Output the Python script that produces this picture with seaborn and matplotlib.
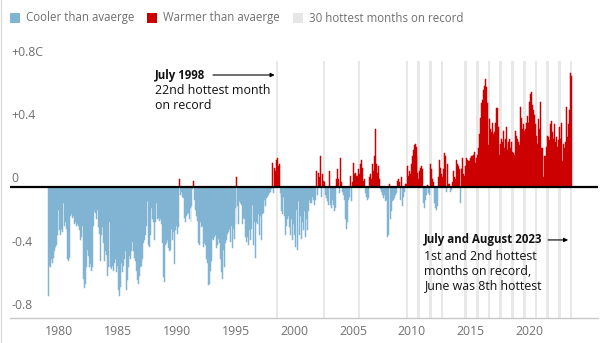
import numpy as np
import pandas as pd
import matplotlib
matplotlib.use("Agg")
import matplotlib.pyplot as plt
import matplotlib.transforms as mtransforms
from matplotlib.patches import Rectangle
import seaborn as sns

plt.rcParams['font.family'] = ['Open Sans', 'DejaVu Sans']

# ---- monthly anomalies (deg C) ----
y1979 = [-0.68,-0.49,-0.50,-0.45,-0.47,-0.44,-0.40,-0.38,-0.37,-0.36,-0.30,-0.14]
y1980 = [-0.27,-0.30,-0.26,-0.28,-0.10,-0.24,-0.22,-0.26,-0.45,-0.46,-0.44,-0.18]
y1981 = [-0.17,-0.19,-0.18,-0.23,-0.22,-0.24,-0.23,-0.24,-0.27,-0.33,-0.31,-0.24]
y1982 = [-0.57,-0.63,-0.60,-0.50,-0.39,-0.43,-0.50,-0.48,-0.52,-0.50,-0.24,-0.15]
y1983 = [-0.16,-0.20,-0.14,-0.25,-0.29,-0.22,-0.46,-0.30,-0.25,-0.35,-0.46,-0.40]
y1984 = [-0.42,-0.55,-0.50,-0.22,-0.50,-0.51,-0.49,-0.52,-0.47,-0.45,-0.53,-0.49]
y1985 = [-0.64,-0.68,-0.62,-0.47,-0.53,-0.49,-0.45,-0.40,-0.64,-0.58,-0.50,-0.43]
y1986 = [-0.45,-0.40,-0.34,-0.40,-0.44,-0.46,-0.52,-0.58,-0.60,-0.55,-0.50,-0.49]
y1987 = [-0.45,-0.35,-0.33,-0.30,-0.22,-0.24,-0.09,-0.36,-0.37,-0.30,-0.13,-0.20]
y1988 = [-0.22,-0.33,-0.22,-0.10,-0.20,-0.19,-0.21,-0.20,-0.23,-0.35,-0.56,-0.59]
y1989 = [-0.36,-0.35,-0.33,-0.38,-0.40,-0.39,-0.26,-0.33,-0.28,-0.48,-0.27,-0.24]
y1990 = [-0.29,-0.25,0.05,-0.05,-0.03,-0.06,-0.07,-0.19,-0.22,-0.18,-0.17,-0.16]
y1991 = [-0.20,-0.13,-0.22,-0.12,-0.01,0.04,-0.08,-0.14,-0.18,-0.21,-0.35,-0.36]
y1992 = [-0.22,-0.25,-0.24,-0.37,-0.35,-0.36,-0.45,-0.47,-0.61,-0.60,-0.52,-0.46]
y1993 = [-0.32,-0.33,-0.31,-0.30,-0.38,-0.36,-0.32,-0.35,-0.45,-0.53,-0.57,-0.39]
y1994 = [-0.50,-0.35,-0.33,-0.29,-0.28,-0.26,-0.34,-0.24,-0.38,-0.26,-0.32,-0.13]
y1995 = [-0.23,0.06,-0.12,-0.23,-0.09,-0.10,-0.11,-0.23,-0.19,-0.20,-0.31,-0.34]
y1996 = [-0.31,-0.36,-0.27,-0.33,-0.26,-0.11,-0.36,-0.22,-0.44,-0.22,-0.23,-0.17]
y1997 = [-0.30,-0.18,-0.33,-0.17,-0.16,-0.08,-0.12,-0.07,-0.06,-0.05,-0.04,-0.03]
y1998 = [-0.01,0.15,-0.04,0.12,0.10,0.17,0.18,0.13,0.14,-0.04,-0.06,-0.15]
y1999 = [-0.17,-0.06,-0.18,-0.30,-0.24,-0.20,-0.18,-0.25,-0.30,-0.20,-0.33,-0.23]
y2000 = [-0.30,-0.37,-0.14,-0.39,-0.09,-0.30,-0.18,-0.32,-0.22,-0.27,-0.15,-0.31]
y2001 = [-0.20,-0.27,-0.15,-0.08,-0.10,-0.10,-0.06,-0.08,-0.11,-0.08,0.10,-0.05]
y2002 = [0.09,0.06,0.19,-0.06,0.08,0.04,0.03,-0.05,-0.07,-0.07,-0.09,-0.11]
y2003 = [0.10,-0.11,-0.13,-0.08,-0.11,-0.15,-0.13,0.05,0.11,0.05,-0.04,0.18]
y2004 = [0.03,-0.03,-0.05,-0.08,-0.20,-0.26,-0.22,-0.08,-0.06,0.07,-0.09,0.03]
y2005 = [0.15,0.08,0.09,0.07,0.07,0.11,0.08,0.14,0.17,0.12,0.04,0.05]
y2006 = [-0.04,-0.06,-0.08,-0.07,0.06,0.08,0.05,0.04,0.14,0.10,0.19,0.36]
y2007 = [0.14,0.09,0.13,0.05,-0.01,-0.03,-0.05,-0.07,-0.05,-0.09,-0.08,-0.31]
y2008 = [-0.30,0.02,-0.20,-0.15,-0.09,-0.08,-0.07,-0.05,-0.04,0.04,0.05,0.03]
y2009 = [-0.08,0.06,-0.12,-0.06,-0.03,0.02,0.02,0.13,0.07,0.10,0.08,0.14]
y2010 = [0.19,0.23,0.26,0.27,0.25,0.19,0.09,0.05,0.10,0.12,0.13,0.11]
y2011 = [-0.10,-0.13,-0.08,-0.05,0.01,-0.04,-0.05,0.14,0.11,0.05,0.03,-0.10]
y2012 = [-0.13,-0.14,-0.12,0.06,0.17,0.12,0.08,0.06,0.11,0.21,0.19,-0.03]
y2013 = [0.14,0.02,0.02,-0.03,-0.02,0.03,0.10,0.06,0.05,0.17,0.14,0.13]
y2014 = [0.11,-0.10,0.11,0.12,0.18,0.08,0.07,0.13,0.18,0.17,0.16,0.16]
y2015 = [0.18,0.19,0.19,0.20,0.22,0.15,0.18,0.20,0.24,0.33,0.43,0.52]
y2016 = [0.54,0.60,0.63,0.67,0.62,0.52,0.26,0.42,0.36,0.34,0.40,0.33]
y2017 = [0.34,0.40,0.49,0.49,0.37,0.20,0.27,0.30,0.28,0.35,0.24,0.30]
y2018 = [0.37,0.23,0.27,0.28,0.30,0.24,0.28,0.22,0.21,0.20,0.35,0.32]
y2019 = [0.30,0.28,0.26,0.50,0.43,0.36,0.39,0.35,0.36,0.40,0.44,0.40]
y2020 = [0.53,0.58,0.59,0.51,0.48,0.45,0.39,0.32,0.27,0.42,0.36,0.53]
y2021 = [0.24,0.24,0.06,0.19,0.19,0.25,0.32,0.31,0.29,0.39,0.41,0.34]
y2022 = [0.31,0.30,0.39,0.28,0.31,0.25,0.29,0.37,0.30,0.40,0.16,0.27]
y2023 = [0.24,0.28,0.50,0.31,0.39,0.48,0.71,0.69]

years_data = [y1979, y1980, y1981, y1982, y1983, y1984, y1985, y1986, y1987,
              y1988, y1989, y1990, y1991, y1992, y1993, y1994, y1995, y1996,
              y1997, y1998, y1999, y2000, y2001, y2002, y2003, y2004, y2005,
              y2006, y2007, y2008, y2009, y2010, y2011, y2012, y2013, y2014,
              y2015, y2016, y2017, y2018, y2019, y2020, y2021, y2022, y2023]
anom = np.concatenate([np.array(v, float) for v in years_data])

# 30 hottest months on record (year, month)
hottest_months = [(1998, 7), (2002, 7), (2005, 7), (2009, 8),
                  (2010, 7), (2010, 8), (2011, 7), (2011, 8),
                  (2012, 7), (2012, 8), (2014, 7), (2014, 8),
                  (2015, 7), (2015, 8), (2016, 7), (2016, 8),
                  (2017, 7), (2017, 8), (2018, 7), (2018, 8),
                  (2019, 7), (2019, 8), (2020, 7), (2020, 8),
                  (2021, 7), (2021, 8), (2022, 7), (2022, 8),
                  (2023, 7), (2023, 8)]

tick_years = [1980, 1985, 1990, 1995, 2000, 2005, 2010, 2015, 2020]
y_levels = [0.8, 0.4, 0.0, -0.4, -0.8]
y_labels = ['+0.8C', '+0.4', '0', '-0.4', '-0.8']
legend_labels = ['Cooler than avaerge', 'Warmer than avaerge', '30 hottest months on record']

BLUE = '#80b4d2'
RED = '#cc0000'
BAND = '#e8e8e8'
GREY_TXT = '#707070'

W, H = 605, 343
fig = plt.figure(figsize=(W / 100, H / 100), dpi=100)
fig.patch.set_facecolor('white')

def fx(px):
    return px / W

def fy(py):
    return 1 - py / H

ax = fig.add_axes([fx(10), fy(318), fx(598) - fx(10), fy(61) - fy(318)])

df = pd.DataFrame({'m': np.arange(len(anom)), 'anom': anom,
                   'kind': np.where(anom >= 0, 'warm', 'cool')})

def mon_index(y, mo):
    return 12 * (y - 1979) + mo - 1

for (yy, mo) in hottest_months:
    m = mon_index(yy, mo)
    ax.axvspan(m - 0.9, m + 0.9, color=BAND, lw=0, zorder=0)

sns.barplot(data=df, x='m', y='anom', hue='kind',
            palette={'cool': BLUE, 'warm': RED}, native_scale=True,
            width=1.0, dodge=False, errorbar=None, legend=False,
            saturation=1, linewidth=0, ax=ax, zorder=2)

# close sub-pixel gaps between adjacent bars
for cont in ax.containers:
    for b in cont:
        b.set_edgecolor(b.get_facecolor())
        b.set_linewidth(0.35)

ax.axhline(0, color='black', lw=1.6, zorder=3)

ax.set_xlim(-39, 562)
ax.set_ylim(-0.814, 0.783)

for s in ['top', 'right', 'left']:
    ax.spines[s].set_visible(False)
ax.spines['bottom'].set_color('#c8c8c8')
ax.spines['bottom'].set_linewidth(1.0)

ax.set_xticks([12 * (y - 1979) - 0.5 for y in tick_years])
ax.set_xticklabels([str(y) for y in tick_years])
ax.tick_params(axis='x', length=0, pad=5, labelsize=8.8, labelcolor=GREY_TXT)
ax.set_yticks([])
ax.set_xlabel('')
ax.set_ylabel('')

# y labels sit just above their level
trans = mtransforms.blended_transform_factory(ax.transAxes, ax.transData)
for lv, lb in zip(y_levels, y_labels):
    ax.text(0.002, lv * 0.981 + 0.05, lb, transform=trans, ha='left',
            va='center', fontsize=8.8, color=GREY_TXT, zorder=5)

# annotations
BOLD_FS = 8.3
REG_FS = 8.9
m98 = mon_index(1998, 7)
ax.annotate('', xy=(m98 - 2.5, 0.696), xytext=(168.5, 0.696),
            arrowprops=dict(arrowstyle='-|>', color='black', lw=0.8,
                            mutation_scale=6, shrinkA=0, shrinkB=0), zorder=6)
ax.text(109.3, 0.696, 'July 1998', fontsize=BOLD_FS, fontweight='bold',
        va='center', ha='left', color='#111111', zorder=6)
ax.text(109.3, 0.602, '22nd hottest month', fontsize=REG_FS,
        va='center', ha='left', color='#111111', zorder=6)
ax.text(109.3, 0.509, 'on record', fontsize=REG_FS,
        va='center', ha='left', color='#111111', zorder=6)

m23 = mon_index(2023, 7)
ax.annotate('', xy=(m23 - 2.5, -0.329), xytext=(511, -0.329),
            arrowprops=dict(arrowstyle='-|>', color='black', lw=0.8,
                            mutation_scale=6, shrinkA=0, shrinkB=0), zorder=6)
ax.text(384.2, -0.329, 'July and August 2023', fontsize=BOLD_FS, fontweight='bold',
        va='center', ha='left', color='#111111', zorder=6)
for yy, t in zip([-0.429, -0.522, -0.615],
                 ['1st and 2nd hottest', 'months on record,', 'June was 8th hottest']):
    ax.text(384.2, yy, t, fontsize=REG_FS, va='center', ha='left',
            color='#111111', zorder=6)

# legend
leg_items = [(10, BLUE, legend_labels[0]), (147, RED, legend_labels[1]),
             (293, '#e6e6e6', legend_labels[2])]
for x0, col, lab in leg_items:
    fig.patches.append(Rectangle((fx(x0), fy(23)), fx(10), fy(13) - fy(23),
                                 transform=fig.transFigure, color=col, lw=0))
    fig.text(fx(x0 + 16), fy(18), lab, fontsize=8.3, color=GREY_TXT,
             va='center', ha='left')

# faint left border
fig.add_artist(plt.Line2D([fx(0.5), fx(0.5)], [0, 1], transform=fig.transFigure,
                          color='#dddddd', lw=1))

fig.savefig('out.png', dpi=100, facecolor='white')
